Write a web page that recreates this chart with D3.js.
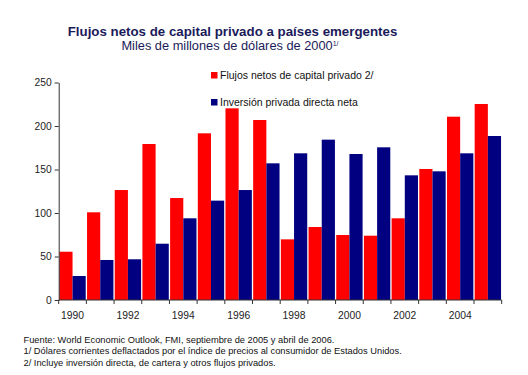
<!DOCTYPE html>
<html>
<head>
<meta charset="utf-8">
<script src="https://cdn.jsdelivr.net/npm/d3@7"></script>
<style>
  body { margin: 0; background: #fff; }
  svg { font-family: "Liberation Sans", Arial, sans-serif; }
  .axis path, .axis line { stroke: #333; }
  .axis text { fill: #222; font-size: 10.3px; }
</style>
</head>
<body>
<svg id="chart" width="528" height="375"></svg>
<script>
var years = d3.range(1990, 2006)
var flujos = [55.5, 100.8, 126.4, 179.3, 117.2, 191.6, 220.3, 206.9, 69.7, 83.9, 74.7, 73.9, 93.9, 150.6, 210.7, 225.3]
var inversion = [27.6, 46, 46.8, 64.7, 93.9, 114.2, 126.4, 157.1, 168.6, 184.3, 167.8, 175.5, 143.3, 147.9, 168.6, 188.5]
var yTicks = [0, 50, 100, 150, 200, 250]
var seriesNames = ['Flujos netos de capital privado 2/', 'Inversión privada directa neta']
var colors = ['#ff0000', '#000080']
var notes = [
  'Fuente: World Economic Outlook, FMI, septiembre de 2005 y abril de 2006.',
  '1/ Dólares corrientes deflactados por el índice de precios al consumidor de Estados Unidos.',
  '2/ Incluye inversión directa, de cartera y otros flujos privados.'
]

var svg = d3.select('#chart')

var x = d3.scaleBand()
  .domain(years)
  .range([58.7, 501.7])

var x1 = d3.scaleBand()
  .domain([0, 1])
  .range([0, x.bandwidth()])
  .paddingOuter(0.05)

var y = d3.scaleLinear()
  .domain([0, 250])
  .range([300, 82.5])

// titles
svg.append('text')
  .attr('x', 232.5).attr('y', 35.5)
  .attr('text-anchor', 'middle')
  .attr('font-size', 13.3).attr('font-weight', 'bold')
  .attr('fill', '#1b1b5a')
  .text('Flujos netos de capital privado a países emergentes')

var sub = svg.append('text')
  .attr('x', 230).attr('y', 50)
  .attr('text-anchor', 'middle')
  .attr('font-size', 12.8)
  .attr('fill', '#1b1b5a')
sub.append('tspan').text('Miles de millones de dólares de 2000')
sub.append('tspan').attr('font-size', 7).attr('dy', -4).text('1/')

// bars
var groups = svg.append('g')
  .selectAll('g')
  .data(years).enter().append('g')
    .attr('transform', function(d) { return 'translate(' + x(d) + ',0)' })

groups.selectAll('rect')
  .data(function(d, i) { return [flujos[i], inversion[i]] })
  .enter().append('rect')
    .attr('x', function(d, j) { return x1(j) })
    .attr('width', x1.bandwidth())
    .attr('y', function(d) { return y(d) })
    .attr('height', function(d) { return y(0) - y(d) })
    .attr('fill', function(d, j) { return colors[j] })

// y axis
svg.append('g')
  .attr('class', 'axis')
  .attr('transform', 'translate(58.7,0)')
  .call(d3.axisLeft(y).tickValues(yTicks).tickSize(4).tickSizeOuter(0))

// x axis with ticks on band edges
var xAxis = svg.append('g')
  .attr('class', 'axis')
  .attr('transform', 'translate(0,300)')
xAxis.append('line')
  .attr('x1', x.range()[0]).attr('x2', x.range()[1])
  .attr('stroke', '#333')
xAxis.selectAll('line.tick')
  .data(years.concat([2006])).enter().append('line')
    .attr('class', 'tick')
    .attr('x1', function(d) { return d < 2006 ? x(d) : x.range()[1] })
    .attr('x2', function(d) { return d < 2006 ? x(d) : x.range()[1] })
    .attr('y1', 0).attr('y2', 4)
    .attr('stroke', '#333')
xAxis.selectAll('text')
  .data(years.filter(function(d) { return d % 2 == 0 })).enter().append('text')
    .attr('x', function(d) { return x(d) + x.bandwidth() / 2 })
    .attr('y', 19)
    .attr('text-anchor', 'middle')
    .text(function(d) { return d })

// legend
var legend = svg.append('g')
  .selectAll('g')
  .data(seriesNames).enter().append('g')
    .attr('transform', function(d, i) { return 'translate(211,' + (72 + i * 27) + ')' })
legend.append('rect')
  .attr('width', 6.5).attr('height', 6.5)
  .attr('fill', function(d, i) { return colors[i] })
legend.append('text')
  .attr('x', 9).attr('y', 7)
  .attr('font-size', 10.5).attr('fill', '#111')
  .text(function(d) { return d })

// footnotes
svg.append('g')
  .selectAll('text')
  .data(notes).enter().append('text')
    .attr('x', 23.5)
    .attr('y', function(d, i) { return 343 + i * 11.3 })
    .attr('font-size', 9.3).attr('fill', '#111')
    .text(function(d) { return d })
</script>
</body>
</html>
